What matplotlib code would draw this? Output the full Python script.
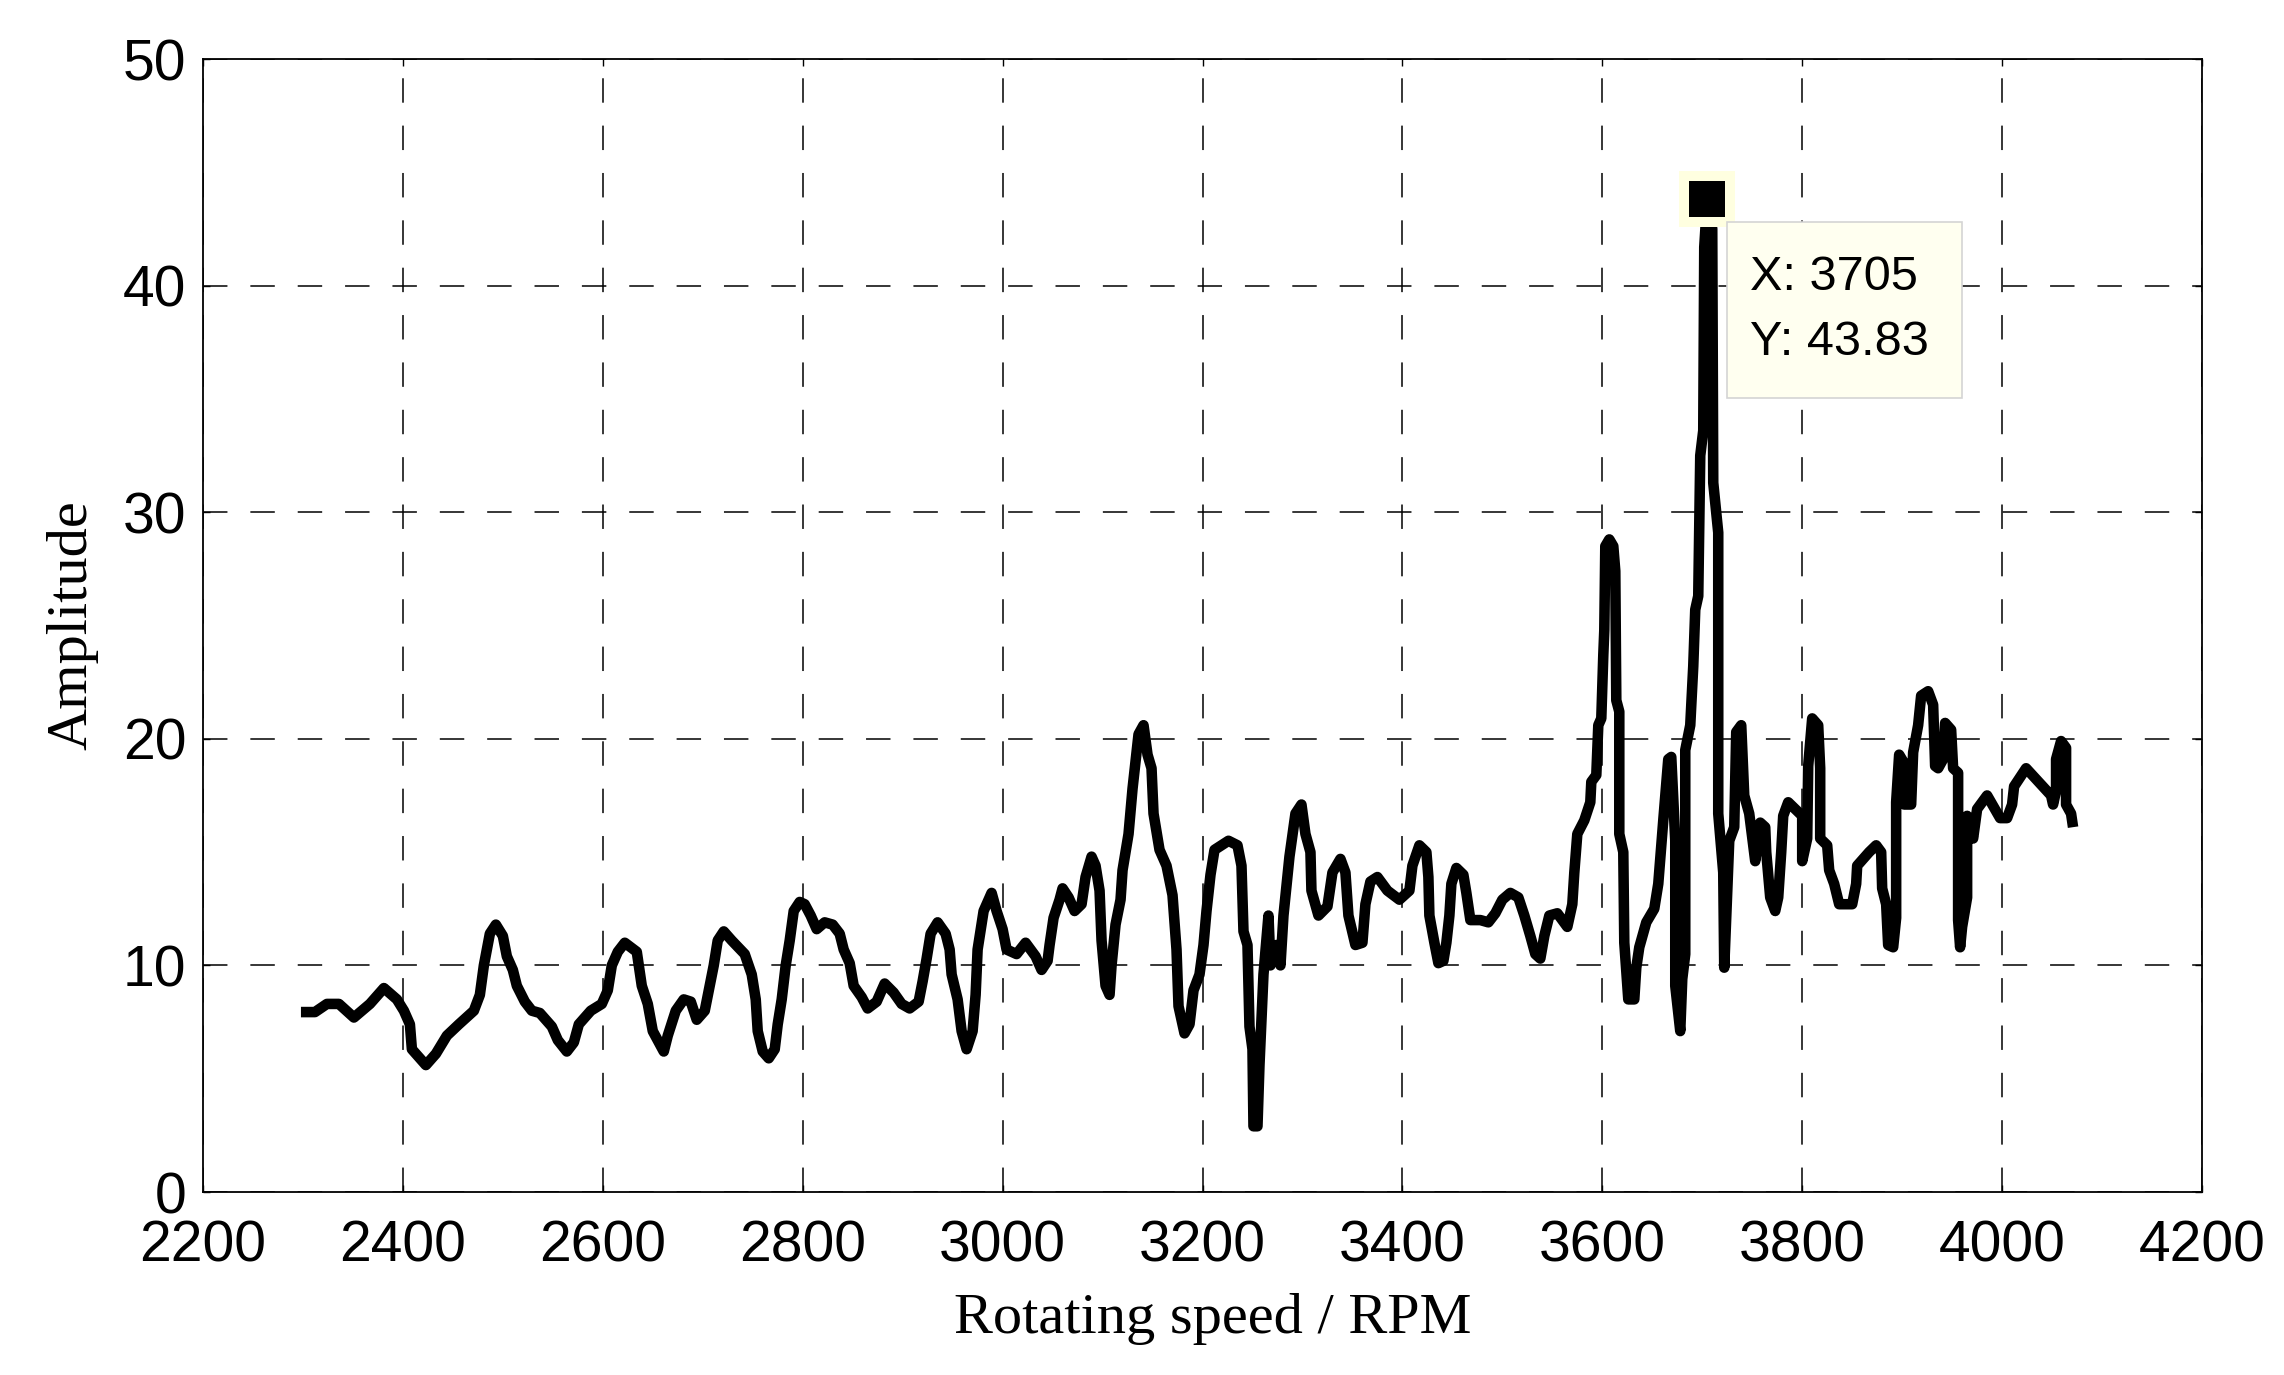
import matplotlib
matplotlib.use("Agg")
import matplotlib.pyplot as plt
from matplotlib.patches import Rectangle

rpm = [2298, 2312, 2324, 2336, 2351, 2367, 2381, 2394, 2401, 2407, 2409, 2417, 2423, 2433, 2444, 2456,
       2471, 2477, 2481, 2487, 2493, 2500, 2504, 2510, 2514, 2522, 2529, 2537, 2549, 2555, 2564, 2571,
       2576, 2588, 2599, 2605, 2609, 2615, 2622, 2634, 2639, 2645, 2650, 2661, 2665, 2673, 2681, 2688,
       2694, 2702, 2706, 2711, 2715, 2721, 2729, 2742,
       2749, 2753, 2755, 2760, 2766, 2772, 2775, 2779, 2783, 2787, 2791, 2797, 2802, 2808, 2814, 2822,
       2830, 2837, 2841, 2847, 2851, 2859, 2865, 2874, 2882, 2891, 2899, 2907, 2916, 2920, 2924, 2928,
       2935, 2943, 2947, 2949, 2955, 2959, 2964, 2970, 2973, 2975, 2981, 2989, 2994, 3000, 3004, 3014,
       3023, 3033, 3039, 3045, 3047, 3051, 3057, 3060, 3066, 3072, 3079, 3083, 3089, 3093, 3097, 3099,
       3103, 3107, 3109, 3113, 3118, 3120, 3126, 3130, 3136, 3141, 3145, 3149, 3151, 3157, 3164, 3170,
       3174, 3176, 3182, 3187, 3191, 3197, 3201, 3204, 3208, 3212, 3226, 3235, 3239, 3241, 3245, 3247,
       3250, 3251, 3255, 3257, 3261, 3266, 3268, 3274, 3278, 3281, 3287, 3293, 3299,
       3303, 3308, 3309, 3316, 3325, 3330, 3338, 3343, 3346, 3353, 3360, 3363, 3368, 3375, 3385, 3397,
       3407, 3410, 3417, 3424, 3426, 3427, 3432, 3436, 3441, 3444, 3447, 3449, 3454, 3461, 3464, 3468,
       3478, 3486, 3493, 3500, 3508, 3516, 3522, 3528, 3533, 3538, 3542, 3547, 3555, 3565, 3570, 3572,
       3575, 3582, 3588, 3589, 3594, 3596, 3599, 3601, 3602, 3603, 3607, 3611, 3613, 3614, 3617, 3617,
       3621, 3622, 3626, 3632, 3634, 3637, 3644, 3652, 3656, 3661, 3666, 3669, 3673, 3673, 3678, 3680,
       3683, 3683, 3688, 3691, 3693, 3696, 3698, 3701, 3702, 3705, 3710, 3711, 3716, 3716, 3721, 3722,
       3727, 3732, 3734, 3739, 3742, 3747,
       3753, 3758, 3763, 3764, 3768, 3773, 3776, 3779, 3781, 3786, 3800, 3800, 3805, 3806, 3810, 3816,
       3818, 3818, 3825, 3827, 3832, 3837, 3850, 3854, 3855, 3867, 3874, 3879, 3880, 3884, 3886, 3891,
       3894, 3894, 3897, 3901, 3902, 3909, 3911, 3916, 3919, 3926, 3931, 3933, 3936, 3941, 3943, 3949,
       3951, 3956, 3956, 3958, 3960, 3965, 3965, 3971, 3975, 3985, 3998, 4005, 4010, 4012, 4024, 4049,
       4051, 4054, 4054, 4059, 4064, 4064, 4069, 4071]

amplitude = [7.94, 7.94, 8.3, 8.3, 7.7, 8.3, 9.0, 8.5, 8.0, 7.4, 6.3, 5.9, 5.6, 6.1, 6.9, 7.4,
             8.0, 8.7, 10.0, 11.4, 11.8, 11.3, 10.4, 9.8, 9.1, 8.4, 8.0, 7.9, 7.3, 6.7, 6.2, 6.6,
             7.4, 8.0, 8.3, 8.9, 10.0, 10.6, 11.0, 10.6, 9.1, 8.3, 7.1, 6.2, 6.9, 8.0, 8.5, 8.4,
             7.6, 8.0, 8.9, 10.0, 11.1, 11.5, 11.1, 10.5,
             9.6, 8.5, 7.1, 6.2, 5.9, 6.3, 7.4, 8.5, 10.0, 11.1, 12.4, 12.8, 12.7, 12.2, 11.6, 11.9,
             11.8, 11.4, 10.7, 10.1, 9.1, 8.6, 8.1, 8.4, 9.2, 8.8, 8.3, 8.1, 8.4, 9.3, 10.3, 11.4,
             11.9, 11.4, 10.7, 9.6, 8.5, 7.1, 6.3, 7.1, 8.7, 10.7, 12.4, 13.2, 12.4, 11.6, 10.7, 10.5,
             11.0, 10.4, 9.8, 10.2, 10.9, 12.1, 12.9, 13.4, 13.0, 12.4, 12.7, 13.9, 14.8, 14.4, 13.3, 11.1,
             9.1, 8.7, 10.0, 11.8, 12.9, 14.2, 15.8, 17.8, 20.2, 20.6, 19.3, 18.7, 16.7, 15.1, 14.4, 13.1,
             10.7, 8.2, 7.0, 7.4, 8.9, 9.6, 10.9, 12.4, 14.0, 15.1, 15.5, 15.3, 14.4, 11.5, 10.9, 7.3,
             6.3, 2.9, 2.9, 5.6, 9.6, 12.2, 10.0, 10.9, 10.0, 12.2, 14.8, 16.7, 17.1,
             15.8, 15.0, 13.3, 12.2, 12.6, 14.1, 14.7, 14.1, 12.2, 10.9, 11.0, 12.7, 13.7, 13.9, 13.3, 12.9,
             13.3, 14.4, 15.3, 15.0, 13.9, 12.2, 11.0, 10.1, 10.2, 11.0, 12.2, 13.6, 14.3, 14.0, 13.2, 12.0,
             12.0, 11.9, 12.3, 12.9, 13.2, 13.0, 12.2, 11.3, 10.5, 10.3, 11.3, 12.2, 12.3, 11.7, 12.7, 14.1,
             15.8, 16.4, 17.2, 18.1, 18.4, 20.6, 20.9, 23.7, 24.8, 28.5, 28.8, 28.5, 27.4, 21.7, 21.2, 15.8,
             15.0, 11.0, 8.5, 8.5, 9.9, 10.8, 11.9, 12.5, 13.6, 16.4, 19.1, 19.2, 15.5, 9.1, 7.1, 9.4,
             10.5, 19.5, 20.6, 23.2, 25.7, 26.3, 32.5, 33.6, 41.7, 43.83, 42.5, 31.3, 29.1, 16.7, 14.1, 9.9,
             15.5, 16.1, 20.3, 20.6, 17.5, 16.7,
             14.6, 16.3, 16.1, 15.0, 13.0, 12.4, 13.0, 15.0, 16.6, 17.2, 16.6, 14.6, 15.6, 18.8, 20.9, 20.6,
             18.7, 15.6, 15.3, 14.2, 13.6, 12.7, 12.7, 13.6, 14.4, 15.0, 15.3, 15.0, 13.4, 12.7, 10.9, 10.8,
             12.1, 17.2, 19.3, 19.0, 17.1, 17.1, 19.4, 20.6, 21.9, 22.1, 21.5, 18.8, 18.7, 19.1, 20.7, 20.4,
             18.7, 18.5, 12.0, 10.8, 11.7, 13.0, 16.6, 15.6, 16.9, 17.5, 16.5, 16.5, 17.1, 17.9, 18.7, 17.5,
             17.1, 17.7, 19.1, 19.9, 19.6, 17.1, 16.7, 16.1]

peak_x = 3705
peak_y = 43.83
x_ticks = [2200, 2400, 2600, 2800, 3000, 3200, 3400, 3600, 3800, 4000, 4200]
y_ticks = [0, 10, 20, 30, 40, 50]

W, H = 2284, 1375
fig = plt.figure(figsize=(W / 100, H / 100), dpi=100)
L, R, T, B = 203, 2202, 59, 1192
ax = fig.add_axes([L / W, 1 - B / H, (R - L) / W, (B - T) / H])

ax.plot(rpm, amplitude, color='black', lw=7.6, solid_joinstyle='round',
        solid_capstyle='butt', zorder=3)
ax.plot([peak_x], [peak_y], marker='s', ms=33, mfc='black', mec='#ffffe0',
        mew=7.2, ls='none', zorder=5)

ax.set_xlim(2200, 4200)
ax.set_ylim(0, 50)
ax.set_xticks(x_ticks)
ax.set_yticks(y_ticks)
ax.grid(True, color='black', lw=1.1, linestyle=(0, (16, 15)), zorder=1)
for s in ax.spines.values():
    s.set_linewidth(1.3)
ax.tick_params(direction='in', length=5, width=1, top=True, right=True,
               labelsize=41)
ax.tick_params(axis='y', pad=12)
ax.tick_params(axis='x', pad=20)
for lab in ax.get_xticklabels() + ax.get_yticklabels():
    lab.set_fontfamily('Liberation Sans')

ax.set_xlabel('Rotating speed / RPM', fontsize=42, fontfamily='Liberation Serif')
ax.set_ylabel('Amplitude', fontsize=42, fontfamily='Liberation Serif')
ax.xaxis.set_label_coords(0.505, -0.089)
ax.yaxis.set_label_coords(-0.0525, 0.5)

# data tip box anchored at the peak point (display pixels)
fig.canvas.draw()
px, py = ax.transData.transform((peak_x, peak_y))
box = Rectangle((px + 20, py - 199), 235, 176, transform=None,
                facecolor='#fffff0', edgecolor='#d4d4d4', lw=1.2, zorder=6)
fig.patches.append(box)
fig.text((px + 43) / W, (py - 91) / H, 'X: %d' % peak_x, fontsize=35,
         fontfamily='Liberation Sans', va='baseline', ha='left', zorder=7)
fig.text((px + 43) / W, (py - 156) / H, 'Y: %.2f' % peak_y, fontsize=35,
         fontfamily='Liberation Sans', va='baseline', ha='left', zorder=7)

fig.savefig('out.png', dpi=100)
